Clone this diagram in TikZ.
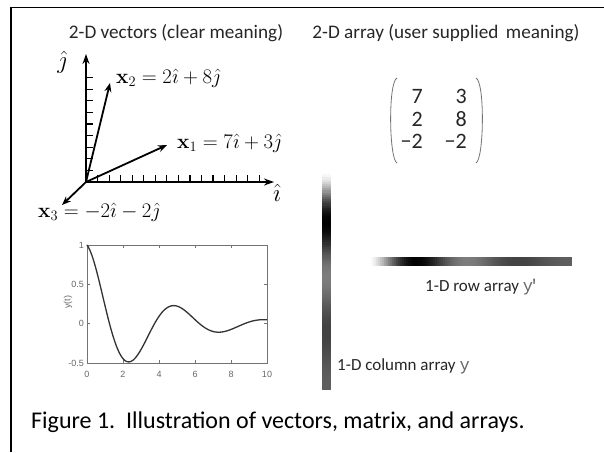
\documentclass[tikz,border=0pt]{standalone}
\usepackage[no-math]{fontspec}
\setmainfont{Carlito}
\newfontfamily\plotfont{Liberation Sans}
\newfontfamily\monoy{Liberation Mono}
\usetikzlibrary{arrows.meta}
\begin{document}
\begin{tikzpicture}[x=1pt,y=-1pt,
  head/.style={font=\fontsize{19.2}{21}\selectfont, text=black!85, inner sep=0pt},
  mlabel/.style={font=\fontsize{21.3}{22}\selectfont, inner sep=0pt},
  axlabel/.style={font=\fontsize{23}{24}\selectfont, inner sep=0pt},
  vec/.style={line width=1.8pt, -{Stealth[length=9pt,width=7pt]}},
  axisarr/.style={line width=1.8pt, -{Stealth[length=10pt,width=7pt]}},
  tickmark/.style={line width=1.2pt},
  ment/.style={font=\fontsize{22}{22}\selectfont, text=black!85, inner sep=0pt, anchor=east},
  paren/.style={draw=black!55, line width=0.8pt},
  arrlabel/.style={font=\fontsize{17}{18}\selectfont, text=black!85, inner sep=0pt},
  pticks/.style={font=\plotfont\fontsize{9}{9}\selectfont, text=black!60, inner sep=0pt},
  pbox/.style={draw=black!55, line width=0.7pt},
]
\useasboundingbox (0,0) rectangle (604,452);
% frame
\coordinate (fTL) at (11,7.5);
\coordinate (fTR) at (604,7.5);
\coordinate (fBL) at (11,452);
\draw[line width=1.6pt] (fBL) -- (fTL) -- (fTR);

% headings
\node[head] (h1) at (176,33) {2-D vectors (clear meaning)};
\node[head] (h2) at (446,33) {2-D array (user supplied\, meaning)};

% axes
\coordinate (O) at (86,182);
\coordinate (jtop) at (86,54);
\coordinate (iend) at (274,182);
\draw[axisarr] (O) -- (jtop);
\draw[axisarr] (O) -- (iend);
\foreach \k in {1,...,9} \draw[tickmark] (86,{182-11.6*\k}) -- (93,{182-11.6*\k});
\foreach \k in {1,...,15} \draw[tickmark] ({86+11.55*\k},182) -- ({86+11.55*\k},175);
\node[axlabel] (jl) at (62,62) {$\hat\jmath$};
\node[axlabel] (il) at (277,193) {$\hat\imath$};

% vectors
\coordinate (x2t) at (110,83);
\coordinate (x1t) at (167,145);
\coordinate (x3t) at (62,205);
\draw[vec] (O) -- (x2t);
\draw[vec] (O) -- (x1t);
\draw[vec] (O) -- (x3t);
\node[mlabel, anchor=west] (x2l) at (116,78) {$\mathbf{x}_2 = 2\hat\imath + 8\hat\jmath$};
\node[mlabel, anchor=west] (x1l) at (177,143) {$\mathbf{x}_1 = 7\hat\imath + 3\hat\jmath$};
\node[mlabel, anchor=west] (x3l) at (38,212) {$\mathbf{x}_3 = -2\hat\imath - 2\hat\jmath$};

% matrix
\node[ment] (m11) at (423,96) {7};
\node[ment] (m12) at (467,96) {3};
\node[ment] (m21) at (423,119) {2};
\node[ment] (m22) at (467,119) {8};
\node[ment] (m31) at (423,141) {−2};
\node[ment] (m32) at (467,141) {−2};
\coordinate (lpT) at (397,78);
\coordinate (lpB) at (397,163);
\coordinate (rpT) at (476,78);
\coordinate (rpB) at (476,163);
\draw[paren] (lpT) .. controls (388,82) and (389,159) .. (lpB);
\draw[paren] (rpT) .. controls (485,82) and (484,159) .. (rpB);

% vertical gradient bar (column array)
\foreach \i in {0,...,99}{
  \pgfmathsetmacro\tt{\i/10+0.05}
  \pgfmathsetmacro\vv{exp(-0.3*\tt)*cos(72*\tt)}
  \pgfmathsetmacro\gg{max(0,min(100,100*(\vv+0.5)/1.5))}
  \fill[white!\gg!black] (322,{173+2.17*\i}) rectangle (331,{173+2.17*(\i+1)+0.3});
}
% horizontal gradient bar (row array)
\foreach \i in {0,...,99}{
  \pgfmathsetmacro\tt{\i/10+0.05}
  \pgfmathsetmacro\vv{exp(-0.3*\tt)*cos(72*\tt)}
  \pgfmathsetmacro\gg{max(0,min(100,100*(\vv+0.5)/1.5))}
  \fill[white!\gg!black] ({370+2.02*\i},257) rectangle ({370+2.02*(\i+1)+0.3},266);
}
\node[arrlabel, anchor=west] (rowl) at (425,287) {1-D row array {\monoy\color{black!60}y\kern-4pt′}};
\node[arrlabel, anchor=west] (coll) at (337,366) {1-D column array {\monoy\color{black!60}y}};

% plot
\coordinate (pTL) at (87,245);
\coordinate (pBR) at (267,363);
\draw[pbox] (pTL) rectangle (pBR);
\foreach \k in {0,...,5}{
  \draw[black!55, line width=0.5pt] ({87+36*\k},363) -- ({87+36*\k},360);
  \draw[black!55, line width=0.5pt] ({87+36*\k},245) -- ({87+36*\k},248);
}
\foreach \v in {0,1,2,3}{
  \draw[black!55, line width=0.5pt] (87,{245+39.33*\v}) -- (90,{245+39.33*\v});
  \draw[black!55, line width=0.5pt] (267,{245+39.33*\v}) -- (264,{245+39.33*\v});
}
\node[pticks] (xt0) at (87,374) {0};
\node[pticks] (xt2) at (123,374) {2};
\node[pticks] (xt4) at (159,374) {4};
\node[pticks] (xt6) at (195,374) {6};
\node[pticks] (xt8) at (231,374) {8};
\node[pticks] (xt10) at (267,374) {10};
\node[pticks, anchor=east] (yt1) at (84,245) {1};
\node[pticks, anchor=east] (yt2) at (84,284.3) {0.5};
\node[pticks, anchor=east] (yt3) at (84,323.7) {0};
\node[pticks, anchor=east] (yt4) at (84,363) {-0.5};
\node[pticks, rotate=90] (ylab) at (68,302) {y(t)};
\draw[black!80, line width=1.3pt] plot[domain=0:10, samples=200, smooth] ({87+18*\x}, {245+78.67*(1-exp(-0.3*\x)*cos(72*\x))});

% caption
\node[font=\fontsize{24}{26}\selectfont, anchor=west, inner sep=0pt] (cap) at (31,422) {Figure 1.\ \ Illustration of vectors, matrix, and arrays.};
\end{tikzpicture}
\end{document}
